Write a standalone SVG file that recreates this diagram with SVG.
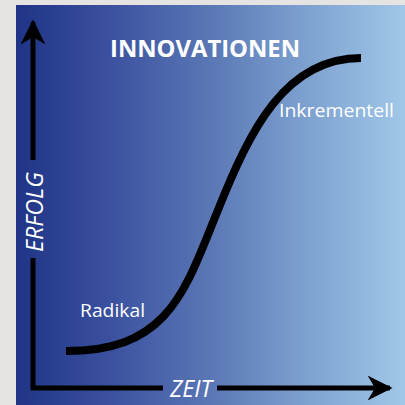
<svg xmlns="http://www.w3.org/2000/svg" width="405" height="405" viewBox="0 0 405 405">
  <defs>
    <linearGradient id="bg" x1="0" y1="0" x2="1" y2="0">
      <stop offset="0" stop-color="#1f3486"/>
      <stop offset="0.25" stop-color="#3c52a0"/>
      <stop offset="0.5" stop-color="#5a77b5"/>
      <stop offset="0.75" stop-color="#7ea2d0"/>
      <stop offset="1" stop-color="#a1c7e8"/>
    </linearGradient>
    <marker id="arr" viewBox="0 0 10 10" refX="9" refY="5" markerWidth="5" markerHeight="5" orient="auto" markerUnits="strokeWidth">
      <path d="M0,0 L10,5 L0,10 L3,5 Z" fill="#000"/>
    </marker>
  </defs>
  <style>
    .lbl { fill: #ffffff; font-family: "Open Sans", "Liberation Sans", sans-serif; }
    .ax { stroke: #000; stroke-width: 5; fill: none; }
  </style>
  <rect x="0" y="0" width="405" height="405" fill="#e5e4e2"/>
  <rect x="16" y="5" width="389" height="400" fill="url(#bg)"/>
  <g id="connectors">
    <path class="ax" d="M33,258 L33,388 L163,388"/>
    <path class="ax" d="M33,160 L33,22" marker-end="url(#arr)"/>
    <path class="ax" d="M217,388 L390,388" marker-end="url(#arr)"/>
    <path d="M66,351 C170,351 185,290 218,210 C250,130 285,58 361,58" stroke="#000" stroke-width="8" fill="none"/>
  </g>
  <g id="title">
    <text class="lbl" x="205" y="57" text-anchor="middle" font-size="24" font-weight="bold" textLength="190" lengthAdjust="spacingAndGlyphs">INNOVATIONEN</text>
  </g>
  <g id="inkrementell">
    <text class="lbl" x="279" y="117" font-size="18.5" textLength="115" lengthAdjust="spacingAndGlyphs">Inkrementell</text>
  </g>
  <g id="radikal">
    <text class="lbl" x="80" y="317" font-size="18.5" textLength="65" lengthAdjust="spacingAndGlyphs">Radikal</text>
  </g>
  <g id="erfolg">
    <text class="lbl" transform="translate(43,212) rotate(-90)" text-anchor="middle" font-size="23" font-style="italic" textLength="80" lengthAdjust="spacingAndGlyphs">ERFOLG</text>
  </g>
  <g id="zeit">
    <text class="lbl" x="191" y="397" text-anchor="middle" font-size="23" font-style="italic" textLength="42" lengthAdjust="spacingAndGlyphs">ZEIT</text>
  </g>
</svg>
